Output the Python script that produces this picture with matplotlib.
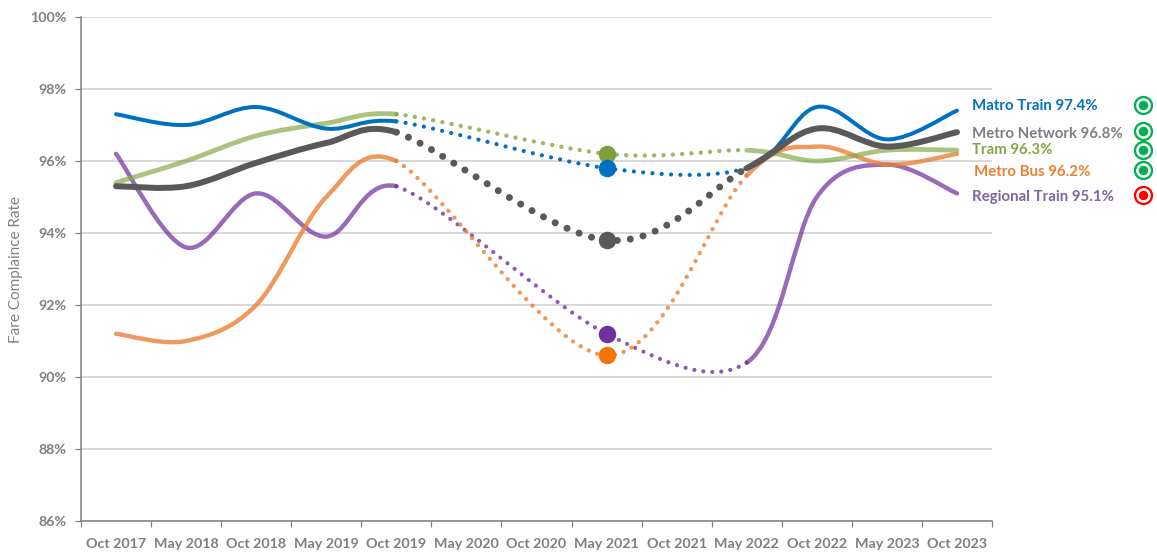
import matplotlib
matplotlib.use("Agg")
import matplotlib.pyplot as plt
from matplotlib.lines import Line2D
from matplotlib.patches import PathPatch
from matplotlib.path import Path

plt.rcParams['font.family'] = ['Lato', 'DejaVu Sans']

categories = ['Oct 2017', 'May 2018', 'Oct 2018', 'May 2019', 'Oct 2019', 'May 2020', 'Oct 2020',
              'May 2021', 'Oct 2021', 'May 2022', 'Oct 2022', 'May 2023', 'Oct 2023']
x_idx = [0, 1, 2, 3, 4, 7, 9, 10, 11, 12]   # categories with a reading
highlight_idx = 7

regional = [96.2, 93.6, 95.1, 93.9, 95.3, 91.2, 90.4, 95.0, 95.9, 95.1]
bus      = [91.2, 91.0, 92.0, 95.0, 96.0, 90.6, 95.6, 96.4, 95.9, 96.2]
tram     = [95.4, 96.0, 96.7, 97.05, 97.3, 96.2, 96.3, 96.0, 96.3, 96.3]
train    = [97.3, 97.0, 97.5, 96.9, 97.1, 95.8, 95.8, 97.5, 96.6, 97.4]
network  = [95.3, 95.3, 95.95, 96.5, 96.8, 93.8, 95.8, 96.9, 96.4, 96.8]

W, H = 1157, 552
fig = plt.figure(figsize=(W / 100, H / 100), dpi=100, facecolor='white')
ax = fig.add_axes([81 / W, 1 - 521 / H, (992 - 81) / W, (521 - 17) / H])
ax.set_xlim(-0.5, 12.5)
ax.set_ylim(86, 100)
px = 0.72

for s in ['top', 'right']:
    ax.spines[s].set_visible(False)
for s in ['left', 'bottom']:
    ax.spines[s].set_color('#7f7f7f')
    ax.spines[s].set_linewidth(1.5 * px)

yt = list(range(86, 101, 2))
ax.set_yticks(yt)
ax.set_yticklabels([f'{v}%' for v in yt], fontsize=10.3, fontweight='bold', color='#7f7f7f')
ax.set_xticks([i - 0.5 for i in range(14)])
ax.set_xticklabels([])
ax.set_xticks(range(13), minor=True)
ax.set_xticklabels(categories, minor=True, fontsize=10.3, fontweight='bold', color='#7f7f7f')
ax.tick_params(axis='x', which='minor', length=0, pad=12)
ax.tick_params(axis='both', which='major', length=5 * px * 1.2, width=1.2 * px, color='#7f7f7f')
ax.tick_params(axis='y', pad=6)
ax.grid(axis='y', color='#d9d9d9', linewidth=2 * px, zorder=0)
ax.set_axisbelow(True)
fig.text(16 / W, 1 - 270 / H, 'Fare Complaince Rate', rotation=90, ha='center', va='center',
         fontsize=11, color='#808080')


def bezier_segments(xs, ys):
    """Excel-style smoothing: one cubic per pair of neighbouring readings."""
    n = len(xs)
    segs = []
    for i in range(n - 1):
        a, b = max(i - 1, 0), min(i + 2, n - 1)
        c1 = (xs[i] + (xs[i + 1] - xs[a]) / 6, ys[i] + (ys[i + 1] - ys[a]) / 6)
        c2 = (xs[i + 1] - (xs[b] - xs[i]) / 6, ys[i + 1] - (ys[b] - ys[i]) / 6)
        segs.append(((xs[i], ys[i]), c1, c2, (xs[i + 1], ys[i + 1])))
    return segs


def draw(segs, color, lw, alpha, style, z):
    verts = [segs[0][0]]
    codes = [Path.MOVETO]
    for s in segs:
        verts += [s[1], s[2], s[3]]
        codes += [Path.CURVE4] * 3
    p = PathPatch(Path(verts, codes), fill=False, edgecolor=color, linewidth=lw * px, alpha=alpha,
                  linestyle=style, capstyle='round', joinstyle='round', zorder=z)
    ax.add_patch(p)


series = [
    (regional, '#7030a0', 4.4, 4.2, 9.0, 0.72, 3),
    (bus, '#ed7d31', 4.4, 4.4, 9.0, 0.78, 3.1),
    (tram, '#84a646', 4.8, 4.4, 9.3, 0.68, 3.2),
    (train, '#0070c0', 4.0, 4.2, 9.3, 1.0, 3.3),
    (network, '#595959', 6.0, 7.0, 13.0, 1.0, 3.4),
]
marker_cols = ['#7030a0', '#f4730a', '#7f9f3f', '#0070c0', '#595959']
sa, sb = x_idx.index(4), x_idx.index(9)
REACH = 2  # categories the tangent helper reaches into the gap
for (vals, col, lw, dlw, gap, al, z), mc in zip(series, marker_cols):
    # tangent helpers for the ends of the solid stretches, taken on the chord across the gap
    xa = x_idx[sa] + REACH
    ya = vals[sa] + REACH * (vals[sa + 1] - vals[sa]) / (x_idx[sa + 1] - x_idx[sa])
    xb = x_idx[sb] - REACH
    yb = vals[sb] - REACH * (vals[sb] - vals[sb - 1]) / (x_idx[sb] - x_idx[sb - 1])
    draw(bezier_segments(x_idx[:sa + 1] + [xa], vals[:sa + 1] + [ya])[:-1], col, lw, al, '-', z)
    draw(bezier_segments([xb] + x_idx[sb:], [yb] + vals[sb:])[1:], col, lw, al, '-', z)
    draw(bezier_segments(x_idx, vals)[sa:sb], col, dlw, max(al, 0.8), (0, (0.01, gap / dlw)), z)
    ax.plot([highlight_idx], [vals[x_idx.index(highlight_idx)]], 'o', ms=17.5 * px, color=mc, mec='none', zorder=z + 2)

labels = ['Matro Train 97.4%', 'Metro Network 96.8%', 'Tram 96.3%', 'Metro Bus 96.2%', 'Regional Train 95.1%']
label_cols = ['#0070c0', '#7f7f7f', '#84a646', '#ed7d31', '#8064a2']
label_x = [972, 972, 972, 974, 972]
label_y = [106.5, 133.5, 150.5, 171.5, 196.5]
status_y = [105, 131, 150, 170, 195]
status_cols = ['#00b050', '#00b050', '#00b050', '#00b050', '#ff0000']
for t, c, lx, ly, sy, sc in zip(labels, label_cols, label_x, label_y, status_y, status_cols):
    fig.text(lx / W, 1 - ly / H, t, fontsize=10.8, fontweight='bold', color=c, ha='left', va='center')
    fig.add_artist(Line2D([1143 / W], [1 - sy / H], transform=fig.transFigure, marker='o', ms=17 * px,
                          mfc='white', mec=sc, mew=2.3 * px, ls='none'))
    fig.add_artist(Line2D([1143 / W], [1 - sy / H], transform=fig.transFigure, marker='o', ms=9.5 * px,
                          mfc=sc, mec='none', ls='none'))

fig.savefig('out.png', dpi=100, facecolor='white')
